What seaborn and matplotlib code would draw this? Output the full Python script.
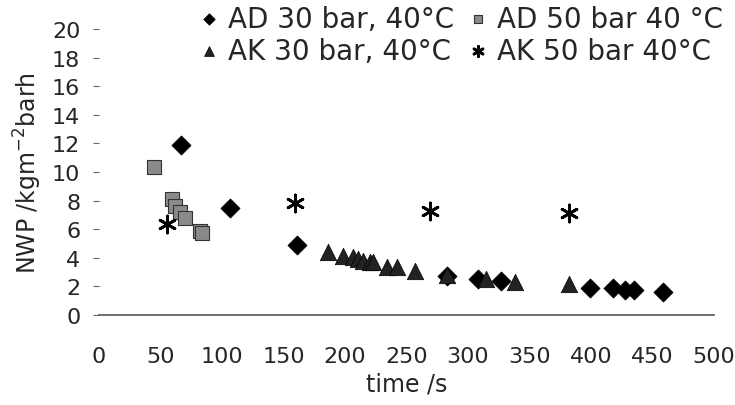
import matplotlib
matplotlib.use("Agg")
import matplotlib.pyplot as plt
import seaborn as sns

# data
ad30_t = [66.7, 106.5, 161, 283, 308, 327, 399, 418, 428, 435, 458.5]
ad30_nwp = [11.9, 7.48, 4.9, 2.75, 2.52, 2.38, 1.9, 1.9, 1.75, 1.75, 1.6]

ad50_t = [44.7, 59, 62, 66, 70, 82, 84]
ad50_nwp = [10.35, 8.1, 7.6, 7.2, 6.8, 5.9, 5.7]

ak30_t = [186, 198, 206.5, 210.5, 214.6, 220, 223, 234, 242, 257, 283, 315, 338, 382]
ak30_nwp = [4.4, 4.1, 4.05, 3.9, 3.78, 3.7, 3.7, 3.36, 3.36, 3.08, 2.8, 2.5, 2.3, 2.2]

ak50_t = [55.3, 159, 269, 382]
ak50_nwp = [6.36, 7.83, 7.27, 7.13]

x_ticks = [0, 50, 100, 150, 200, 250, 300, 350, 400, 450, 500]
y_ticks = [0, 2, 4, 6, 8, 10, 12, 14, 16, 18, 20]

sns.set_style("white")
plt.rcParams['font.family'] = ['DejaVu Sans']

fig = plt.figure(figsize=(7.35, 4.06), dpi=100)
ax = fig.add_axes([99 / 735, 90 / 406, 615 / 735, 286 / 406])

sns.scatterplot(x=ad30_t, y=ad30_nwp, ax=ax, marker='D', s=95, color='black',
                edgecolor='black', linewidth=0.5, label='AD 30 bar, 40°C', zorder=3)
sns.scatterplot(x=ad50_t, y=ad50_nwp, ax=ax, marker='s', s=115, color='#8a8a8a',
                edgecolor='#333333', linewidth=0.8, label='AD 50 bar 40 °C', zorder=3)
sns.scatterplot(x=ak30_t, y=ak30_nwp, ax=ax, marker='^', s=140, color='#222222',
                edgecolor='black', linewidth=0.5, label='AK 30 bar, 40°C', zorder=3)
sns.scatterplot(x=ak50_t, y=ak50_nwp, ax=ax, marker=(6, 2, 0), s=150, color='black',
                linewidth=2, label='AK 50 bar 40°C', zorder=3)

ax.set_xlim(0, 500)
ax.set_ylim(0, 20)
ax.set_xticks(x_ticks)
ax.set_yticks(y_ticks)
ax.tick_params(axis='x', labelsize=16, length=0, pad=22)
ax.tick_params(axis='y', labelsize=16, length=4.5, width=0.8, color='#666666',
               direction='out', left=True, pad=9)
for side in ['top', 'right', 'left']:
    ax.spines[side].set_visible(False)
ax.spines['bottom'].set_color('#555555')
ax.spines['bottom'].set_linewidth(1.2)

ax.set_xlabel('time /s', fontsize=17, labelpad=4)
ax.set_ylabel('NWP /kgm$^{\\mathregular{-2}}$barh', fontsize=17, labelpad=6)

# legend: two rows, AD on top, AK below
h, l = ax.get_legend_handles_labels()
order = [0, 2, 1, 3]
ax.legend([h[i] for i in order], [l[i] for i in order], ncol=2, loc='upper left',
          bbox_to_anchor=(192 / 735, 1.0), bbox_transform=fig.transFigure,
          frameon=False, fontsize=20, markerscale=0.6, handletextpad=0.3,
          columnspacing=0.45, labelspacing=0.15, borderaxespad=0.1,
          borderpad=0.1, handlelength=0.8)

fig.savefig('out.png', dpi=100)
